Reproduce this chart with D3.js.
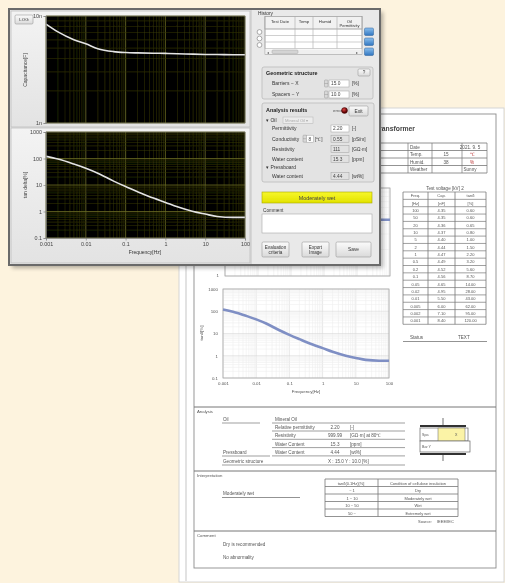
<!DOCTYPE html>
<html><head><meta charset="utf-8">
<script src="https://cdn.jsdelivr.net/npm/d3@7"></script>
<style>
html,body{margin:0;padding:0;background:#fdf3de;overflow:hidden}
svg{display:block;font-family:"Liberation Sans",Arial,sans-serif}
</style></head><body>
<svg id="c" width="505" height="583"></svg>
<script>
// Measured dielectric response (frequency domain spectroscopy)
const frequency     = [0.001,0.002,0.005,0.01,0.02,0.05,0.1,0.2,0.5,1,2,5,10,20,50,100];
const capacitanceNF = [8.4,7.1,6.0,5.5,4.95,4.65,4.56,4.52,4.49,4.47,4.44,4.40,4.37,4.36,4.35,4.35];
const tanDeltaPct   = [120,95,62,43,28,14,8.7,5.6,3.2,2.2,1.5,1.0,0.8,0.65,0.6,0.6];

const freqTicks = [0.001,0.01,0.1,1,10,100];
const freqTickLabels = ["0.001","0.01","0.1","1","10","100"];
const tanTicks = [0.1,1,10,100,1000];
const tanTickLabels = ["0.1","1","10","100","1000"];
const capTicks = [1,10];
const capTickLabels = ["1n","10n"];

const historyColumns = ["Test Date","Temp","Humid","Oil"];
const geoLabels = ["Barriers − X","Spacers − Y"];
const geoValues = ["15.0","10.0"];
const resultLabels = ["Permittivity","Conductivity","Resistivity","Water content"];
const resultValues = ["2.20","0.55","111","15.3"];
const resultUnits  = ["[-]","[pS/m]","[GΩ·m]","[ppm]"];
const pressboardWater = "4.44";
const verdict = "Moderately wet";

const infoLabels = ["Date","Temp.","Humid.","Weather"];
const infoValues = ["2021. 9. 5","15","38","Sunny"];
const infoUnits  = ["","℃","%",""];
const analysisRows = [
  ["Relative permittivity","2.20","[-]"],
  ["Resistivity","999.99","[GΩ·m] at 80℃"],
  ["Water Content","15.3","[ppm]"],
  ["Water Content","4.44","[wt%]"]
];
const criteriaRows = [["~ 1","Dry"],["1 ~ 10","Moderately wet"],["10 ~ 50","Wet"],["50 ~","Extremely wet"]];
const comments = ["Dry is recommended","No abnormality"];

const svg = d3.select("#c");
const defs = svg.append("defs");
defs.append("filter").attr("id","soft").append("feGaussianBlur").attr("stdDeviation",0.75);
defs.append("filter").attr("id","softer").append("feGaussianBlur").attr("stdDeviation",0.35);
defs.append("filter").attr("id","shadow").append("feGaussianBlur").attr("stdDeviation",2);
function lin(id,stops,vertical=true){
  const g=defs.append("linearGradient").attr("id",id).attr("x1",0).attr("y1",0).attr("x2",vertical?0:1).attr("y2",vertical?1:0);
  stops.forEach(([o,c])=>g.append("stop").attr("offset",o).attr("stop-color",c));
}
lin("panel",[[0,"#f3f3f3"],[1,"#e3e3e3"]]);
lin("btn",[[0,"#fbfbfb"],[1,"#dadada"]]);
lin("blue",[[0,"#8cc0ee"],[1,"#2f75c0"]]);
lin("yellow",[[0,"#f7f72a"],[1,"#e2e200"]]);
const rg=defs.append("radialGradient").attr("id","led").attr("cx",0.4).attr("cy",0.35);
rg.append("stop").attr("offset",0).attr("stop-color","#e04040");
rg.append("stop").attr("offset",1).attr("stop-color","#5a0505");

// log-scale grid helper: decade lines and 2..9 minor lines
function logValues(lo,hi){
  const out=[];
  for(let e=Math.round(Math.log10(lo));e<Math.round(Math.log10(hi));e++)
    for(let m=1;m<10;m++) out.push({v:m*Math.pow(10,e),major:m===1});
  out.push({v:hi,major:true});
  return out;
}

/* ---------------- printed report page ---------------- */
const rep = svg.append("g").attr("filter","url(#soft)");
rep.append("rect").attr("x",179).attr("y",108).attr("width",325).attr("height",474).attr("fill","#fff").attr("stroke","#d6d6d6");
rep.append("line").attr("x1",186).attr("x2",186).attr("y1",108).attr("y2",581).attr("stroke","#e2e2e2").attr("stroke-width",2);
rep.append("rect").attr("x",194).attr("y",114).attr("width",302).attr("height",454).attr("fill","none").attr("stroke","#8c8c8c").attr("stroke-width",0.9);

const rt = (x,y,s,o={})=>rep.append("text").attr("x",x).attr("y",y).text(s)
  .attr("font-size",o.size||4.6).attr("fill",o.fill||"#555").attr("text-anchor",o.anchor||"start")
  .attr("font-weight",o.bold?"bold":null);
const rl = (x1,y1,x2,y2,w=0.7,c="#777")=>rep.append("line").attr("x1",x1).attr("y1",y1).attr("x2",x2).attr("y2",y2).attr("stroke",c).attr("stroke-width",w);

rt(415,131,"Transformer",{size:6.8,anchor:"end",bold:true,fill:"#444"});

// header info table
const infoY = d3.range(5).map(i=>143+i*7.5);
infoY.forEach(y=>rl(232,y,487,y,0.8));
[232,300,345,378,408,432,462,487].forEach(x=>rl(x,143,x,173,0.7));
infoLabels.forEach((s,i)=>{
  rt(410,infoY[i]+5.5,s);
  rt(infoUnits[i]?446:470,infoY[i]+5.5,infoValues[i],{anchor:"middle"});
  if(infoUnits[i]) rt(470,infoY[i]+5.5,infoUnits[i],{fill:"#b33"});
});

// capacitance chart of the report (mostly behind the window)
const rCapX = d3.scaleLog().domain([0.001,100]).range([225,390]);
const rCapY = d3.scaleLog().domain([1,10]).range([276,188]);
const rTanX = d3.scaleLog().domain([0.001,100]).range([223,389]);
const rTanY = d3.scaleLog().domain([0.1,1000]).range([378,289]);
function reportChart(xs,ys,values){
  const g=rep.append("g");
  const [x0,x1]=xs.range(), [y1,y0]=ys.range();
  g.append("rect").attr("x",x0).attr("y",y0).attr("width",x1-x0).attr("height",y1-y0).attr("fill","#fff");
  logValues(...xs.domain()).forEach(d=>g.append("line").attr("x1",xs(d.v)).attr("x2",xs(d.v)).attr("y1",y0).attr("y2",y1)
    .attr("stroke",d.major?"#d8d8d8":"#eeeeee").attr("stroke-width",0.6));
  logValues(...ys.domain()).forEach(d=>g.append("line").attr("y1",ys(d.v)).attr("y2",ys(d.v)).attr("x1",x0).attr("x2",x1)
    .attr("stroke",d.major?"#d8d8d8":"#eeeeee").attr("stroke-width",0.6));
  g.append("rect").attr("x",x0).attr("y",y0).attr("width",x1-x0).attr("height",y1-y0).attr("fill","none").attr("stroke","#a8a8a8").attr("stroke-width",0.8);
  g.append("path").datum(values).attr("fill","none").attr("stroke","#7f8fc4").attr("stroke-width",2.6)
    .attr("d",d3.line().x((d,i)=>xs(frequency[i])).y(d=>ys(d)).curve(d3.curveMonotoneX));
  return g;
}
reportChart(rCapX,rCapY,capacitanceNF);
rt(219,277,"1",{anchor:"end",size:4.4});
reportChart(rTanX,rTanY,tanDeltaPct);
const rya = rep.append("g").attr("transform","translate(223,0)")
  .call(d3.axisLeft(rTanY).tickValues(tanTicks).tickFormat((d,i)=>tanTickLabels[i]).tickSize(0).tickPadding(5));
rya.select(".domain").remove();
rya.selectAll("text").attr("font-size",4.4).attr("fill","#555").attr("font-family","Liberation Sans, Arial");
const rxa = rep.append("g").attr("transform","translate(0,378)")
  .call(d3.axisBottom(rTanX).tickValues(freqTicks).tickFormat((d,i)=>freqTickLabels[i]).tickSize(0).tickPadding(4));
rxa.select(".domain").remove();
rxa.selectAll("text").attr("font-size",4.4).attr("fill","#555").attr("font-family","Liberation Sans, Arial");
rt(306,393,"Frequency[Hz]",{anchor:"middle",size:4.4});
rep.append("text").attr("transform","translate(203,333) rotate(-90)").attr("text-anchor","middle")
  .attr("font-size",4.4).attr("fill","#555").text("tanδ[%]");

// test voltage table
rt(445,190,"Test voltage  [kV] 2",{anchor:"middle"});
const tvRows = [["Freq.","Cap.","tanδ"],["[Hz]","[nF]","[%]"]]
  .concat(frequency.map((f,i)=>[String(f),capacitanceNF[i].toFixed(2),tanDeltaPct[i].toFixed(2)]).reverse());
const tvTop=192, tvH=7.35, tvCols=[403,428,455,486];
tvRows.forEach((r,i)=>{
  rl(403,tvTop+i*tvH,486,tvTop+i*tvH,0.7);
  r.forEach((s,j)=>rt((tvCols[j]+tvCols[j+1])/2,tvTop+i*tvH+5.3,s,{anchor:"middle",size:4}));
});
rl(403,tvTop+tvRows.length*tvH,486,tvTop+tvRows.length*tvH,0.7);
tvCols.forEach(x=>rl(x,tvTop,x,tvTop+tvRows.length*tvH,0.8));
rt(410,339,"Status");
rt(458,339,"TEXT");
rl(403,341.5,487,341.5,0.8);

// analysis section
rl(194,407,496,407,1);
rt(197,412.5,"Analysis",{size:4.3});
rt(223,421,"Oil"); rl(222,423,260,423);
rt(275,421,"Mineral Oil");
analysisRows.forEach((r,i)=>{
  const y=429+i*8.3;
  rt(275,y,r[0]); rt(335,y,r[1],{anchor:"middle"}); rt(350,y,r[2]);
  rl(272,y+2,405,y+2);
});
rt(223,454,"Pressboard"); rl(222,456,270,456);
rt(223,463,"Geometric structure"); rt(328,463,"X : 15.0   Y : 10.0   [%]");
rl(222,465,405,465);
rl(272,423,405,423);
// small barrier/spacer sketch
rl(420,426,466,426,2,"#333");
rep.append("rect").attr("x",420).attr("y",428).attr("width",48).attr("height",13).attr("fill","#fff").attr("stroke","#666").attr("stroke-width",0.7);
rep.append("rect").attr("x",438).attr("y",428).attr("width",27).attr("height",13).attr("fill","#fbf3a6").attr("stroke","#666").attr("stroke-width",0.5);
rep.append("rect").attr("x",420).attr("y",441).attr("width",50).attr("height",11).attr("fill","#fff").attr("stroke","#666").attr("stroke-width",0.7);
rl(420,454,466,454,2,"#333");
rl(443,418,443,426,0.7,"#333"); rl(443,454,443,461,0.7,"#333");
rt(422,436,"Spa",{size:3.6}); rt(455,436,"X",{size:3.6}); rt(422,448,"Bar Y",{size:3.6});

// interpretation section
rl(194,471,496,471,1);
rt(197,477,"Interpretation",{size:4.3});
rt(223,495,verdict); rl(222,497.5,300,497.5,0.8);
const crTop=479, crH=7.5, crCols=[325,350,378,458];
rl(325,crTop,458,crTop,0.8);
rt(351,crTop+5.5,"tanδ(0.1Hz)[%]",{anchor:"middle",size:4});
rt(418,crTop+5.5,"Condition of cellulose insulation",{anchor:"middle",size:4});
criteriaRows.forEach((r,i)=>{
  const y=crTop+(i+1)*crH;
  rl(325,y,458,y,0.8);
  rt(352,y+5.5,r[0],{anchor:"middle",size:4});
  rt(418,y+5.5,r[1],{anchor:"middle",size:4});
});
rl(325,crTop+5*crH,458,crTop+5*crH,0.8);
crCols.forEach((x,i)=>rl(x,crTop,x,crTop+5*crH,i===1?0:0.8));
rt(418,523,"Source:",{size:4}); rt(437,523,"IEEE/IEC",{size:4});

// comment section
rl(194,531,496,531,1);
rt(197,537,"Comment",{size:4.3});
rt(223,546,comments[0]);
rt(223,559,comments[1]);

/* ---------------- analyzer window ---------------- */
svg.append("rect").attr("x",12).attr("y",12).attr("width",371).attr("height",256).attr("fill","#000").attr("opacity",0.3).attr("filter","url(#shadow)");
const app = svg.append("g").attr("filter","url(#softer)");
app.append("rect").attr("x",9).attr("y",9).attr("width",371).attr("height",256).attr("fill","#e9e9e9").attr("stroke","#6a6a6a").attr("stroke-width",2);
app.append("rect").attr("x",11).attr("y",11).attr("width",239).attr("height",116).attr("fill","url(#panel)").attr("stroke","#bdbdbd").attr("stroke-width",0.8);
app.append("rect").attr("x",11).attr("y",128).attr("width",239).attr("height",135).attr("fill","url(#panel)").attr("stroke","#bdbdbd").attr("stroke-width",0.8);
app.append("line").attr("x1",251).attr("x2",251).attr("y1",10).attr("y2",264).attr("stroke","#c4c4c4");

const appX = d3.scaleLog().domain([0.001,100]).range([46,245]);
const capY = d3.scaleLog().domain([1,10]).range([123,16]);
const tanY = d3.scaleLog().domain([0.1,1000]).range([238,132]);

function appPlot(ys,values){
  const g=app.append("g");
  const [x0,x1]=appX.range(), [y1,y0]=ys.range();
  g.append("rect").attr("x",x0).attr("y",y0).attr("width",x1-x0).attr("height",y1-y0).attr("fill","#030300");
  logValues(...appX.domain()).forEach(d=>g.append("line").attr("x1",appX(d.v)).attr("x2",appX(d.v)).attr("y1",y0).attr("y2",y1)
    .attr("stroke",d.major?"#6a6b24":"#33340a").attr("stroke-width",d.major?0.8:0.6));
  logValues(...ys.domain()).forEach(d=>g.append("line").attr("y1",ys(d.v)).attr("y2",ys(d.v)).attr("x1",x0).attr("x2",x1)
    .attr("stroke",d.major?"#6a6b24":"#33340a").attr("stroke-width",d.major?0.8:0.6));
  g.append("path").datum(values).attr("fill","none").attr("stroke","#e4e4e4").attr("stroke-width",1.6)
    .attr("d",d3.line().x((d,i)=>appX(frequency[i])).y(d=>ys(d)).curve(d3.curveMonotoneX));
  g.append("rect").attr("x",x0).attr("y",y0).attr("width",x1-x0).attr("height",y1-y0).attr("fill","none").attr("stroke","#777").attr("stroke-width",0.6);
}
appPlot(capY,capacitanceNF);
appPlot(tanY,tanDeltaPct);

function styleAxis(g){
  g.select(".domain").attr("stroke","#888").attr("stroke-width",0.6);
  g.selectAll(".tick line").attr("stroke","#777").attr("stroke-width",0.6);
  g.selectAll("text").attr("font-size",5.4).attr("fill","#444").attr("font-family","Liberation Sans, Arial");
}
styleAxis(app.append("g").attr("transform","translate(46,0)")
  .call(d3.axisLeft(capY).tickValues(capTicks).tickFormat((d,i)=>capTickLabels[i]).tickSize(2.5).tickPadding(1.5)));
styleAxis(app.append("g").attr("transform","translate(46,0)")
  .call(d3.axisLeft(tanY).tickValues(tanTicks).tickFormat((d,i)=>tanTickLabels[i]).tickSize(2.5).tickPadding(1.5)));
styleAxis(app.append("g").attr("transform","translate(0,238)")
  .call(d3.axisBottom(appX).tickValues(freqTicks).tickFormat((d,i)=>freqTickLabels[i]).tickSize(2.5).tickPadding(1.5)));

const at=(x,y,s,o={})=>app.append("text").attr("x",x).attr("y",y).text(s)
  .attr("font-size",o.size||5.2).attr("fill",o.fill||"#333").attr("text-anchor",o.anchor||"start")
  .attr("font-weight",o.bold?"bold":null);
app.append("text").attr("transform","translate(27,70) rotate(-90)").attr("text-anchor","middle").attr("font-size",5).attr("fill","#444").text("Capacitance[F]");
app.append("text").attr("transform","translate(27,185) rotate(-90)").attr("text-anchor","middle").attr("font-size",5).attr("fill","#444").text("tan delta[%]");
at(145,253.5,"Frequency[Hz]",{anchor:"middle",size:5});

function button(x,y,w,h,lines,size=4.8){
  app.append("rect").attr("x",x).attr("y",y).attr("width",w).attr("height",h).attr("rx",1.2)
    .attr("fill","url(#btn)").attr("stroke","#9a9a9a").attr("stroke-width",0.6);
  lines.forEach((s,i)=>at(x+w/2,y+h/2+1.8+(i-(lines.length-1)/2)*5.5,s,{anchor:"middle",size}));
}
button(15,15,18,9,["LOG"],4.4);

// history list
at(258,15,"History",{size:4.8});
const hx=[265,295,313,337,362];
app.append("rect").attr("x",265).attr("y",16.5).attr("width",97).attr("height",38).attr("fill","#fff").attr("stroke","#9a9a9a").attr("stroke-width",0.6);
app.append("rect").attr("x",265).attr("y",16.5).attr("width",97).attr("height",12.5).attr("fill","#f1f1f1").attr("stroke","#9a9a9a").attr("stroke-width",0.6);
hx.forEach(x=>app.append("line").attr("x1",x).attr("x2",x).attr("y1",16.5).attr("y2",48.5).attr("stroke","#a8a8a8").attr("stroke-width",0.6));
[29,35.5,42,48.5].forEach(y=>app.append("line").attr("x1",265).attr("x2",362).attr("y1",y).attr("y2",y).attr("stroke","#b0b0b0").attr("stroke-width",0.6));
historyColumns.forEach((s,i)=>at((hx[i]+hx[i+1])/2,22.5,s,{anchor:"middle",size:4.3}));
at((hx[3]+hx[4])/2,27,"Permittivity",{anchor:"middle",size:4.1});
app.append("rect").attr("x",266).attr("y",49.5).attr("width",95).attr("height",4.5).attr("fill","#efefef");
app.append("rect").attr("x",272).attr("y",50).attr("width",26).attr("height",3.5).attr("rx",1).attr("fill","#d4d4d4").attr("stroke","#999").attr("stroke-width",0.4);
at(267,53.5,"◂",{size:4,fill:"#666"}); at(356,53.5,"▸",{size:4,fill:"#666"});
[32,38.5,45].forEach(y=>app.append("circle").attr("cx",259.5).attr("cy",y).attr("r",2.4).attr("fill","#fff").attr("stroke","#777").attr("stroke-width",0.6));
[28,38,48].forEach(y=>app.append("rect").attr("x",364.5).attr("y",y).attr("width",9).attr("height",7.5).attr("rx",1.2).attr("fill","url(#blue)").attr("stroke","#2a5f99").attr("stroke-width",0.5));

// geometric structure
function group(x,y,w,h){
  app.append("rect").attr("x",x).attr("y",y).attr("width",w).attr("height",h).attr("rx",2)
    .attr("fill","#e3e3e3").attr("stroke","#b4b4b4").attr("stroke-width",0.7);
}
function field(x,y,w,s,ro){
  app.append("rect").attr("x",x).attr("y",y).attr("width",w).attr("height",7).attr("fill",ro?"#e1e1e1":"#fff").attr("stroke","#a0a0a0").attr("stroke-width",0.5);
  at(x+2,y+5.4,s,{size:4.8,fill:"#444"});
}
function spinner(x,y){
  app.append("rect").attr("x",x).attr("y",y).attr("width",3.5).attr("height",7).attr("rx",0.8).attr("fill","#d8d8d8").attr("stroke","#888").attr("stroke-width",0.4);
  app.append("line").attr("x1",x).attr("x2",x+3.5).attr("y1",y+3.5).attr("y2",y+3.5).attr("stroke","#888").attr("stroke-width",0.4);
}
group(262,67,111,32);
at(266,75,"Geometric structure",{bold:true,size:5.4,fill:"#222"});
button(358,69,12,7,["?"],4.6);
geoLabels.forEach((s,i)=>{
  const y=80+i*11;
  at(272,y+5.2,s,{size:5});
  spinner(324.5,y);
  field(329,y,20,geoValues[i],false);
  at(352,y+5.2,"[%]",{size:4.8});
});

// analysis results
group(262,103,112,79);
at(266,111.5,"Analysis results",{bold:true,size:5.4,fill:"#222"});
at(333,112,"error",{size:4.4,fill:"#555"});
app.append("circle").attr("cx",344.5).attr("cy",110.5).attr("r",3).attr("fill","url(#led)").attr("stroke","#3a0000").attr("stroke-width",0.4);
button(349,106,19,10,["Exit"],4.8);
at(266,121.5,"▾ Oil",{size:5});
app.append("rect").attr("x",283).attr("y",117).attr("width",30).attr("height",6.5).attr("fill","#ececec").attr("stroke","#b4b4b4").attr("stroke-width",0.5);
at(285,122,"Mineral Oil  ▾",{size:4.2,fill:"#aaa"});
resultLabels.forEach((s,i)=>{
  const y=125+i*10.2;
  at(272,y+5.3,s,{size:5});
  field(331,y,18,resultValues[i],i>0);
  at(352,y+5.3,resultUnits[i],{size:4.7});
});
spinner(303,135.2);
field(306.5,135.2,7,"8",false);
at(315,140.5,"[℃]",{size:4.6});
at(266,168.5,"▾ Pressboard",{size:5});
at(272,177.5,"Water content",{size:5});
field(331,172.3,18,pressboardWater,true);
at(352,177.6,"[wt%]",{size:4.7});

// verdict bar
app.append("rect").attr("x",262).attr("y",192).attr("width",110).attr("height",11).attr("fill","url(#yellow)").attr("stroke","#a8a800").attr("stroke-width",0.6);
at(317,199.6,verdict,{anchor:"middle",size:5.4,fill:"#444"});

// comment
at(263,212,"Comment",{size:4.7});
app.append("rect").attr("x",262).attr("y",214).attr("width",110).attr("height",19).attr("fill","#fff").attr("stroke","#a8a8a8").attr("stroke-width",0.6);

// command buttons
button(262,242,27,15,["Evaluation","criteria"],4.6);
button(302,242,27,15,["Export","Image"],4.6);
button(336,242,35,15,["Save"],4.8);
</script>
</body></html>
